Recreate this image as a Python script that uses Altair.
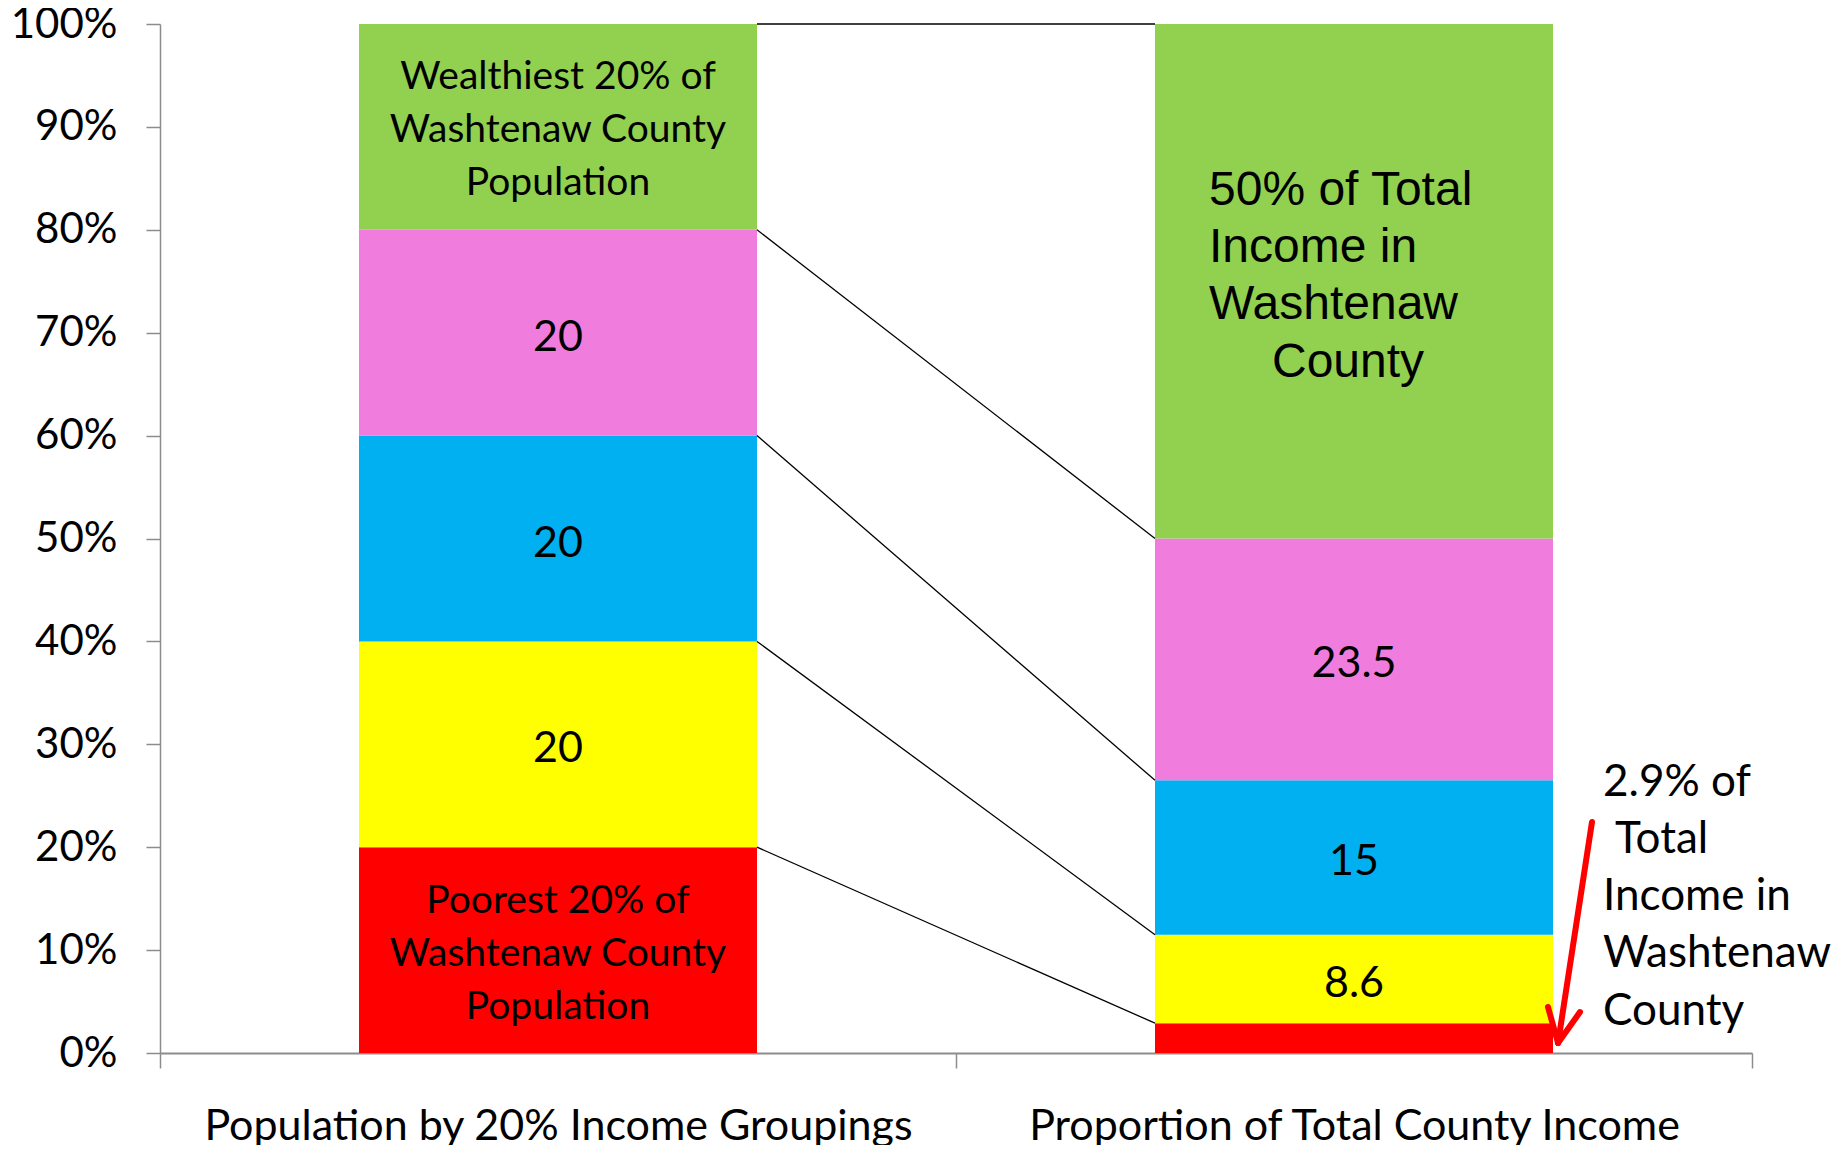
import altair as alt
import pandas as pd

# ---- data ----
groups = ["Population by 20% Income Groupings", "Proportion of Total County Income"]
segments = ["Poorest", "Second", "Third", "Fourth", "Wealthiest"]
seg_colors = ["#FF0000", "#FFFF00", "#00B0F0", "#F07CDE", "#92D050"]
population_share = [20, 20, 20, 20, 20]
income_share = [2.9, 8.6, 15, 23.5, 50]

left_labels = ["Poorest 20% of\nWashtenaw County\nPopulation", "20", "20", "20",
               "Wealthiest 20% of\nWashtenaw County\nPopulation"]
right_labels = ["", "8.6", "15", "23.5", ""]
right_top_lines = ["50% of Total\nIncome in\nWashtenaw", "County"]
note_lines = ["2.9% of", "Total", "Income in\nWashtenaw\nCounty"]
# annotation anchor and arrow, in data units (x: 0-2, y: %)
note_pos = [1.8128, 15.2]
arrow_x = [1.799, 1.7563, 1.7437, 1.7563, 1.7839]
arrow_y = [22.45, 0.97, 4.47, 0.97, 3.98]
y_ticks = [0, 10, 20, 30, 40, 50, 60, 70, 80, 90, 100]

BAR_HALF = 0.25

rows = []
for gi, shares in enumerate([population_share, income_share]):
    cum = 0.0
    for si, v in enumerate(shares):
        rows.append({"g": gi, "seg": segments[si], "x0": gi + 0.5 - BAR_HALF,
                     "x1": gi + 0.5 + BAR_HALF, "y0": cum, "y1": cum + v,
                     "mid": cum + v / 2, "xc": gi + 0.5,
                     "label": (left_labels if gi == 0 else right_labels)[si]})
        cum += v
bars = pd.DataFrame(rows)

left_cum, right_cum = [], []
c1 = c2 = 0.0
for a, b in zip(population_share, income_share):
    c1 += a
    c2 += b
    left_cum.append(c1)
    right_cum.append(round(c2, 1))
links = pd.DataFrame({"x": [0.5 + BAR_HALF] * 5, "x2": [1.5 - BAR_HALF] * 5,
                      "y": left_cum, "y2": right_cum})

arrow = pd.DataFrame({"x": [arrow_x[0], arrow_x[2], arrow_x[4]],
                      "y": [arrow_y[0], arrow_y[2], arrow_y[4]],
                      "x2": [arrow_x[1], arrow_x[1], arrow_x[1]],
                      "y2": [arrow_y[1], arrow_y[1], arrow_y[1]]})

label_expr = ("datum.value === 0.5 ? '" + groups[0] + "' : datum.value === 1.5 ? '"
              + groups[1] + "' : ''")

xscale = alt.Scale(domain=[0, 2], nice=False, zero=False)
yscale = alt.Scale(domain=[0, 100], nice=False, zero=True)
xaxis = alt.Axis(values=[0, 0.5, 1, 1.5, 2], labelExpr=label_expr, grid=False,
                 tickOpacity={"condition": {"test": "datum.value % 1 === 0", "value": 1}, "value": 0},
                 tickSize=15, tickColor="#8c8c8c", tickWidth=1.5,
                 domainColor="#8c8c8c", domainWidth=2,
                 labelFont="Lato", labelFontSize=43, labelColor="black", labelLimit=0,
                 labelPadding=37, labelOverlap=False, labelBound=False, labelFlush=False)
yaxis = alt.Axis(values=y_ticks, labelExpr="datum.value + '%'", grid=False,
                 tickSize=14, tickColor="#8c8c8c", tickWidth=1.5,
                 domainColor="#8c8c8c", domainWidth=1.5,
                 labelFont="Lato", labelFontSize=42, labelColor="black",
                 labelPadding=29)

X = lambda f: alt.X(f, type="quantitative", scale=xscale, axis=xaxis, title=None)
Y = lambda f: alt.Y(f, type="quantitative", scale=yscale, axis=yaxis, title=None)

bar_layer = alt.Chart(bars).mark_rect(stroke=None).encode(
    x=X("x0"), x2="x1", y=Y("y0"), y2="y1",
    color=alt.Color("seg:N", scale=alt.Scale(domain=segments, range=seg_colors), legend=None),
)

link_layer = alt.Chart(links).mark_rule(color="black", strokeWidth=1.3).encode(
    x=X("x"), x2="x2", y=Y("y"), y2="y2")

multi = bars[(bars.g == 0) & bars.label.str.contains("\n")]
left_text = alt.Chart(multi).mark_text(
    font="Lato", fontSize=39, lineBreak="\n", lineHeight=53, color="black",
    align="center", baseline="middle", dy=-49.5).encode(x=X("xc"), y=Y("mid"), text="label:N")

nums = bars[(bars.label != "") & ~bars.label.str.contains("\n")]
num_text = alt.Chart(nums).mark_text(
    font="Lato", fontSize=43, color="black", align="center", baseline="middle", dy=5
).encode(x=X("xc"), y=Y("mid"), text="label:N")

top_anchor = pd.DataFrame({"x": [1.5 - BAR_HALF], "y": [bars[bars.g == 1].mid.iloc[-1]],
                           "t1": [right_top_lines[0]], "t2": [right_top_lines[1]]})
top_text1 = alt.Chart(top_anchor).mark_text(
    font="Liberation Sans", fontSize=48, lineBreak="\n", lineHeight=57, color="black",
    align="left", baseline="middle", dx=54, dy=-90).encode(x=X("x"), y=Y("y"), text="t1:N")
top_text2 = alt.Chart(top_anchor).mark_text(
    font="Liberation Sans", fontSize=48, color="black",
    align="left", baseline="middle", dx=117, dy=82).encode(x=X("x"), y=Y("y"), text="t2:N")

note = pd.DataFrame({"x": [note_pos[0]], "y": [note_pos[1]],
                     "a": [note_lines[0]], "b": [note_lines[1]], "c": [note_lines[2]]})
note_style = dict(font="Lato", fontSize=44, lineBreak="\n", lineHeight=57.5, color="black",
                  align="left", baseline="middle")
note_a = alt.Chart(note).mark_text(dy=-114, **note_style).encode(x=X("x"), y=Y("y"), text="a:N")
note_b = alt.Chart(note).mark_text(dy=-57, dx=12, **note_style).encode(x=X("x"), y=Y("y"), text="b:N")
note_c = alt.Chart(note).mark_text(dy=0, **note_style).encode(x=X("x"), y=Y("y"), text="c:N")

arrow_layer = alt.Chart(arrow).mark_rule(color="#FF0000", strokeWidth=6, strokeCap="round").encode(
    x=X("x"), x2="x2", y=Y("y"), y2="y2")

chart = alt.layer(bar_layer, link_layer, left_text, num_text, top_text1, top_text2,
                  note_a, note_b, note_c, arrow_layer).properties(
    width=1592, height=1029,
    autosize=alt.AutoSizeParams(type="none"),
    padding={"left": 152, "top": 16, "right": 81, "bottom": 92},
).configure(background="white").configure_view(stroke=None)

chart.save("out.html", embed_options={"renderer": "svg", "actions": False})
